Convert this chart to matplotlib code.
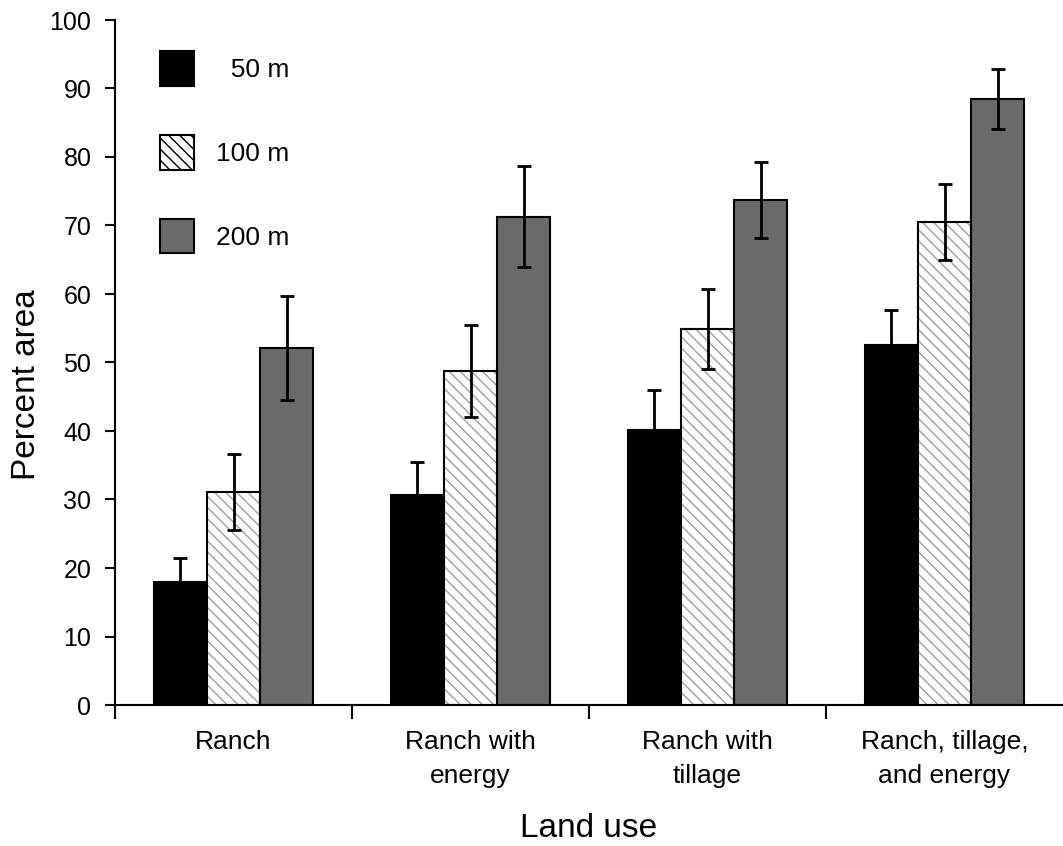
import numpy as np
import matplotlib
matplotlib.use("Agg")
import matplotlib.pyplot as plt
import matplotlib.patches as mpatches

plt.rcParams['font.family'] = ['Liberation Sans', 'DejaVu Sans']
plt.rcParams['hatch.linewidth'] = 1.0

categories = ["Ranch", "Ranch with\nenergy", "Ranch with\ntillage", "Ranch, tillage,\nand energy"]
series_labels = ["  50 m", "100 m", "200 m"]

mean_50 = [17.9, 30.7, 40.2, 52.6]
err_50 = [3.6, 4.8, 5.8, 5.0]
mean_100 = [31.1, 48.8, 54.9, 70.5]
err_100 = [5.6, 6.7, 5.9, 5.5]
mean_200 = [52.1, 71.3, 73.7, 88.5]
err_200 = [7.6, 7.4, 5.5, 4.4]

fig = plt.figure(figsize=(10.63, 8.46), dpi=100)
ax = fig.add_axes([115 / 1063, 1 - 705 / 846, 1 - 115 / 1063, (705 - 20) / 846])

x = np.arange(len(categories))
w = 0.225
ekw = dict(ecolor="black", elinewidth=2, capsize=5, capthick=2, zorder=4)

ax.bar(x - w, mean_50, w, color="black", edgecolor="black", linewidth=1.5, zorder=2)
ax.errorbar(x - w, mean_50, yerr=err_50, fmt="none", **ekw)

# hatched bars: gray hatch first, black outline on top
ax.bar(x, mean_100, w, color="white", edgecolor="#a0a0a0", hatch="\\\\\\", linewidth=0, zorder=2)
ax.bar(x, mean_100, w, color="none", edgecolor="black", linewidth=1.5, zorder=3)
ax.errorbar(x, mean_100, yerr=err_100, fmt="none", **ekw)

ax.bar(x + w, mean_200, w, color="#6a6a6a", edgecolor="black", linewidth=1.5, zorder=2)
ax.errorbar(x + w, mean_200, yerr=err_200, fmt="none", **ekw)

h1 = mpatches.Patch(facecolor="black", edgecolor="black", linewidth=1.5)
h2 = mpatches.Patch(facecolor="white", edgecolor="#a0a0a0", hatch="\\\\\\", linewidth=1.5)
h3 = mpatches.Patch(facecolor="#6a6a6a", edgecolor="black", linewidth=1.5)
leg = ax.legend([h1, h2, h3], series_labels, loc="upper left",
                bbox_to_anchor=(160 / 1063, 1 - 51 / 846), bbox_transform=fig.transFigure,
                frameon=False, fontsize=19, handlelength=1.28, handleheight=1.66,
                handletextpad=0.84, labelspacing=1.85, borderpad=0, borderaxespad=0)
leg.get_patches()[1].set_edgecolor("black")

ax.set_xlim(-0.5, 3.5)
ax.set_ylim(0, 100)
ax.set_yticks(range(0, 101, 10))
ax.tick_params(axis="y", labelsize=18, length=7, width=1.5, pad=10, direction="out")

ax.set_xticks(np.arange(-0.5, 3.0, 1.0))
ax.set_xticklabels([])
ax.tick_params(axis="x", which="major", length=10, width=1.5, direction="out")
ax.set_xticks(x, minor=True)
ax.set_xticklabels(categories, minor=True, fontsize=19, linespacing=1.55)
ax.tick_params(axis="x", which="minor", length=0, pad=18)

for s in ["top", "right"]:
    ax.spines[s].set_visible(False)
ax.spines["left"].set_linewidth(1.5)
ax.spines["bottom"].set_linewidth(1.5)

ax.set_ylabel("Percent area", fontsize=24)
ax.yaxis.set_label_coords(-0.077, (705 - 385) / 685)
ax.set_xlabel("Land use", fontsize=24, labelpad=18)

fig.savefig("out.png", dpi=100)
